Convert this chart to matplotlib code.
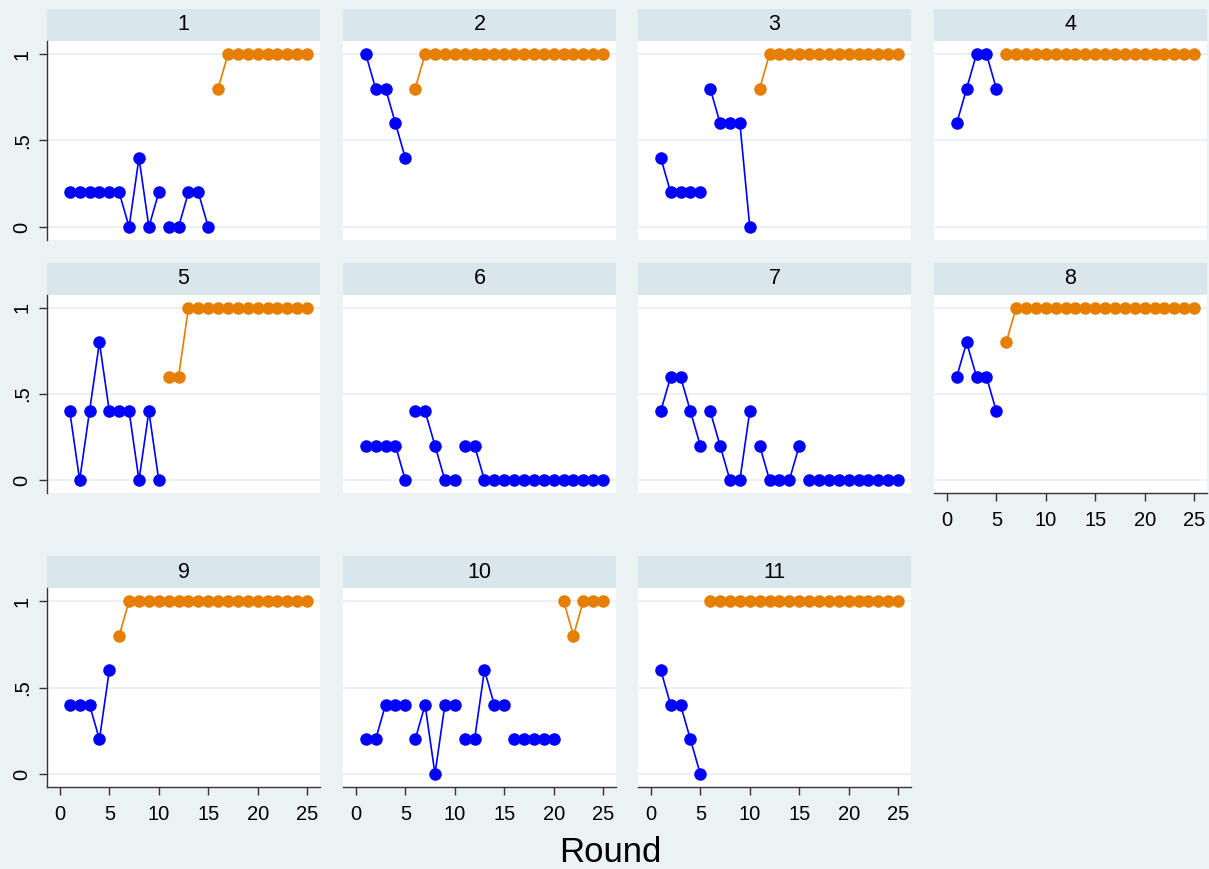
import numpy as np
import matplotlib
matplotlib.use("Agg")
import matplotlib.pyplot as plt

plt.rcParams['font.family'] = ['Liberation Sans', 'DejaVu Sans']

rounds = np.arange(1, 26)

# share per round for each of the 11 groups
vals_1 = [.2, .2, .2, .2, .2, .2, 0, .4, 0, .2, 0, 0, .2, .2, 0, .8, 1, 1, 1, 1, 1, 1, 1, 1, 1]
vals_2 = [1, .8, .8, .6, .4, .8, 1, 1, 1, 1, 1, 1, 1, 1, 1, 1, 1, 1, 1, 1, 1, 1, 1, 1, 1]
vals_3 = [.4, .2, .2, .2, .2, .8, .6, .6, .6, 0, .8, 1, 1, 1, 1, 1, 1, 1, 1, 1, 1, 1, 1, 1, 1]
vals_4 = [.6, .8, 1, 1, .8, 1, 1, 1, 1, 1, 1, 1, 1, 1, 1, 1, 1, 1, 1, 1, 1, 1, 1, 1, 1]
vals_5 = [.4, 0, .4, .8, .4, .4, .4, 0, .4, 0, .6, .6, 1, 1, 1, 1, 1, 1, 1, 1, 1, 1, 1, 1, 1]
vals_6 = [.2, .2, .2, .2, 0, .4, .4, .2, 0, 0, .2, .2, 0, 0, 0, 0, 0, 0, 0, 0, 0, 0, 0, 0, 0]
vals_7 = [.4, .6, .6, .4, .2, .4, .2, 0, 0, .4, .2, 0, 0, 0, .2, 0, 0, 0, 0, 0, 0, 0, 0, 0, 0]
vals_8 = [.6, .8, .6, .6, .4, .8, 1, 1, 1, 1, 1, 1, 1, 1, 1, 1, 1, 1, 1, 1, 1, 1, 1, 1, 1]
vals_9 = [.4, .4, .4, .2, .6, .8, 1, 1, 1, 1, 1, 1, 1, 1, 1, 1, 1, 1, 1, 1, 1, 1, 1, 1, 1]
vals_10 = [.2, .2, .4, .4, .4, .2, .4, 0, .4, .4, .2, .2, .6, .4, .4, .2, .2, .2, .2, .2, 1, .8, 1, 1, 1]
vals_11 = [.6, .4, .4, .2, 0, 1, 1, 1, 1, 1, 1, 1, 1, 1, 1, 1, 1, 1, 1, 1, 1, 1, 1, 1, 1]

# first round drawn in orange (26 = never)
orange_start = [16, 6, 11, 6, 11, 26, 26, 6, 6, 21, 6]

panels = [vals_1, vals_2, vals_3, vals_4, vals_5, vals_6,
          vals_7, vals_8, vals_9, vals_10, vals_11]

W, H = 1209, 869
BG = '#eaf2f3'
STRIP = '#d9e6eb'
BLUE = '#0000ff'
ORANGE = '#e67e00'

col_x = [(47, 320), (343, 616), (638, 911), (934, 1207)]
row_y = [(9, 41, 240), (263, 295, 493), (556, 588, 787)]


def box(x0, y0, x1, y1):
    return [x0 / W, 1 - y1 / H, (x1 - x0) / W, (y1 - y0) / H]


fig = plt.figure(figsize=(W / 100, H / 100), dpi=100, facecolor=BG)

for i, vals in enumerate(panels):
    r, c = divmod(i, 4)
    x0, x1 = col_x[c]
    top, mid, bot = row_y[r]

    # header strip
    hax = fig.add_axes(box(x0, top, x1, mid))
    hax.set_facecolor(STRIP)
    hax.set_xticks([])
    hax.set_yticks([])
    for s in hax.spines.values():
        s.set_visible(False)
    hax.text(0.5, 0.5, str(i + 1), ha='center', va='center', fontsize=15.5,
             transform=hax.transAxes)

    ax = fig.add_axes(box(x0, mid, x1, bot))
    ax.set_facecolor('white')
    ax.set_xlim(-1.3, 26.3)
    ax.set_ylim(-0.075, 1.075)
    for y in [0, .5, 1]:
        ax.axhline(y, color=BG, lw=1.5, zorder=0)

    v = np.array(vals, dtype=float)
    is_or = rounds >= orange_start[i]
    # lines join rounds inside each block of five
    for b in range(5):
        blk = (rounds > 5 * b) & (rounds <= 5 * b + 5)
        for mask, col in [(blk & ~is_or, BLUE), (blk & is_or, ORANGE)]:
            if mask.any():
                ax.plot(rounds[mask], v[mask], color=col, lw=1.2, marker='o',
                        ms=8, mec=col, mfc=col, zorder=3, clip_on=False)

    for s in ['top', 'right']:
        ax.spines[s].set_visible(False)
    ax.spines['left'].set_visible(c == 0)
    show_x = (i + 4 >= len(panels))
    ax.spines['bottom'].set_visible(show_x)
    for s in ['left', 'bottom']:
        ax.spines[s].set_color('#333333')
        ax.spines[s].set_linewidth(1.0)

    ax.set_yticks([0, .5, 1])
    if c == 0:
        ax.set_yticklabels(['0', '.5', '1'], rotation=90, va='center', fontsize=14.5)
        ax.tick_params(axis='y', length=6, width=1, color='#333333', pad=5)
    else:
        ax.tick_params(axis='y', left=False, labelleft=False)

    ax.set_xticks([0, 5, 10, 15, 20, 25])
    if show_x:
        ax.tick_params(axis='x', length=6, width=1, color='#333333', pad=7,
                       labelsize=14.5)
    else:
        ax.tick_params(axis='x', bottom=False, labelbottom=False)

fig.text(610 / W, 1 - 853 / H, 'Round', ha='center', va='center', fontsize=25)

fig.savefig('out.png', dpi=100, facecolor=BG)
